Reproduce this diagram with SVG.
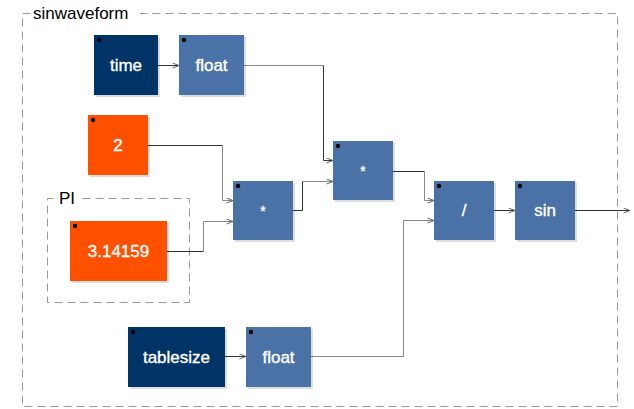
<svg xmlns="http://www.w3.org/2000/svg" width="634" height="409" viewBox="0 0 634 409">
<style>
text{font-family:"Liberation Sans",Arial,sans-serif;}
.lbl{font-size:17px;fill:#fff;stroke:#fff;stroke-width:0.35;text-anchor:middle;}
.ttl{font-size:17px;fill:#000;}
.grp{fill:none;stroke:#999;stroke-width:1;stroke-dasharray:8 5;}
.sh{fill:#000;opacity:0.13;}
.inp{fill:#003366;}
.op{fill:#4a72a6;}
.cst{fill:#ff5000;}
.dot{fill:#000;}
.w{fill:none;stroke:#333;stroke-width:1;}
.wg{fill:none;stroke:#888;stroke-width:1;}
</style>
<defs>
<marker id="ar" markerWidth="8" markerHeight="6" refX="7" refY="3" orient="auto" markerUnits="userSpaceOnUse">
<path d="M0.5,0.5 L7,3 L0.5,5.5" fill="none" stroke="#666" stroke-width="1"/>
</marker>
</defs>
<rect width="634" height="409" fill="#fff"/>
<g id="sinwaveform">
<path class="grp" d="M30.5,13.5 H22.5 V406.5 H617.5 V13.5 H140"/>
<text class="ttl" x="33" y="19">sinwaveform</text>
</g>
<g id="PI">
<path class="grp" d="M53.5,198.5 H47.5 V302.5 H189.5 V198.5 H78"/>
<text class="ttl" x="59" y="204">PI</text>
</g>
<g id="connectors">
<path class="w" d="M158,65.5 H179" marker-end="url(#ar)"/>
<path class="wg" d="M244,65.5 H323.5"/>
<path class="w" d="M323.5,65.5 V160.5 H333" marker-end="url(#ar)"/>
<path class="w" d="M148,145.5 H222.5"/>
<path class="wg" d="M222.5,145.5 V200.5 H233" marker-end="url(#ar)"/>
<path class="w" d="M167,251.5 H203.5"/>
<path class="wg" d="M203.5,251.5 V221.5 H233" marker-end="url(#ar)"/>
<path class="w" d="M293,210.5 H302.5 V181.5"/>
<path class="wg" d="M302.5,181.5 H333" marker-end="url(#ar)"/>
<path class="w" d="M393,171.5 H424.5"/>
<path class="wg" d="M424.5,171.5 V200.5 H434" marker-end="url(#ar)"/>
<path class="wg" d="M311,356.5 H403.5 V220.5 H434" marker-end="url(#ar)"/>
<path class="w" d="M494,210.5 H515" marker-end="url(#ar)"/>
<path class="w" d="M225,356.5 H246" marker-end="url(#ar)"/>
<path class="w" d="M575,210.5 H630" marker-end="url(#ar)"/>
</g>
<g id="time">
<rect class="sh" x="96" y="37" width="64" height="60"/>
<rect class="inp" x="94" y="35" width="64" height="60"/>
<circle class="dot" cx="99" cy="40" r="2.2"/>
<text class="lbl" x="126" y="71">time</text>
</g>
<g id="float1">
<rect class="sh" x="181" y="37" width="65" height="60"/>
<rect class="op" x="179" y="35" width="65" height="60"/>
<circle class="dot" cx="184" cy="40" r="2.2"/>
<text class="lbl" x="211.5" y="71">float</text>
</g>
<g id="const2">
<rect class="sh" x="90" y="117" width="60" height="60"/>
<rect class="cst" x="88" y="115" width="60" height="60"/>
<circle class="dot" cx="93" cy="120" r="2.2"/>
<text class="lbl" x="118" y="151">2</text>
</g>
<g id="pi">
<rect class="sh" x="72" y="223" width="97" height="60"/>
<rect class="cst" x="70" y="221" width="97" height="60"/>
<circle class="dot" cx="75" cy="226" r="2.2"/>
<text class="lbl" x="118.5" y="257">3.14159</text>
</g>
<g id="mul1">
<rect class="sh" x="235" y="183" width="60" height="59"/>
<rect class="op" x="233" y="181" width="60" height="59"/>
<circle class="dot" cx="238" cy="186" r="2.2"/>
<text class="lbl" x="263" y="216" style="font-size:14px">*</text>
</g>
<g id="mul2">
<rect class="sh" x="335" y="143" width="60" height="59"/>
<rect class="op" x="333" y="141" width="60" height="59"/>
<circle class="dot" cx="338" cy="146" r="2.2"/>
<text class="lbl" x="363" y="176" style="font-size:14px">*</text>
</g>
<g id="div">
<rect class="sh" x="436" y="183" width="60" height="59"/>
<rect class="op" x="434" y="181" width="60" height="59"/>
<circle class="dot" cx="439" cy="186" r="2.2"/>
<text class="lbl" x="464" y="216">/</text>
</g>
<g id="sin">
<rect class="sh" x="517" y="183" width="60" height="59"/>
<rect class="op" x="515" y="181" width="60" height="59"/>
<circle class="dot" cx="520" cy="186" r="2.2"/>
<text class="lbl" x="545" y="216">sin</text>
</g>
<g id="tablesize">
<rect class="sh" x="130" y="329" width="97" height="60"/>
<rect class="inp" x="128" y="327" width="97" height="60"/>
<circle class="dot" cx="133" cy="332" r="2.2"/>
<text class="lbl" x="176.5" y="363">tablesize</text>
</g>
<g id="float2">
<rect class="sh" x="248" y="329" width="65" height="60"/>
<rect class="op" x="246" y="327" width="65" height="60"/>
<circle class="dot" cx="251" cy="332" r="2.2"/>
<text class="lbl" x="278.5" y="363">float</text>
</g>
</svg>
